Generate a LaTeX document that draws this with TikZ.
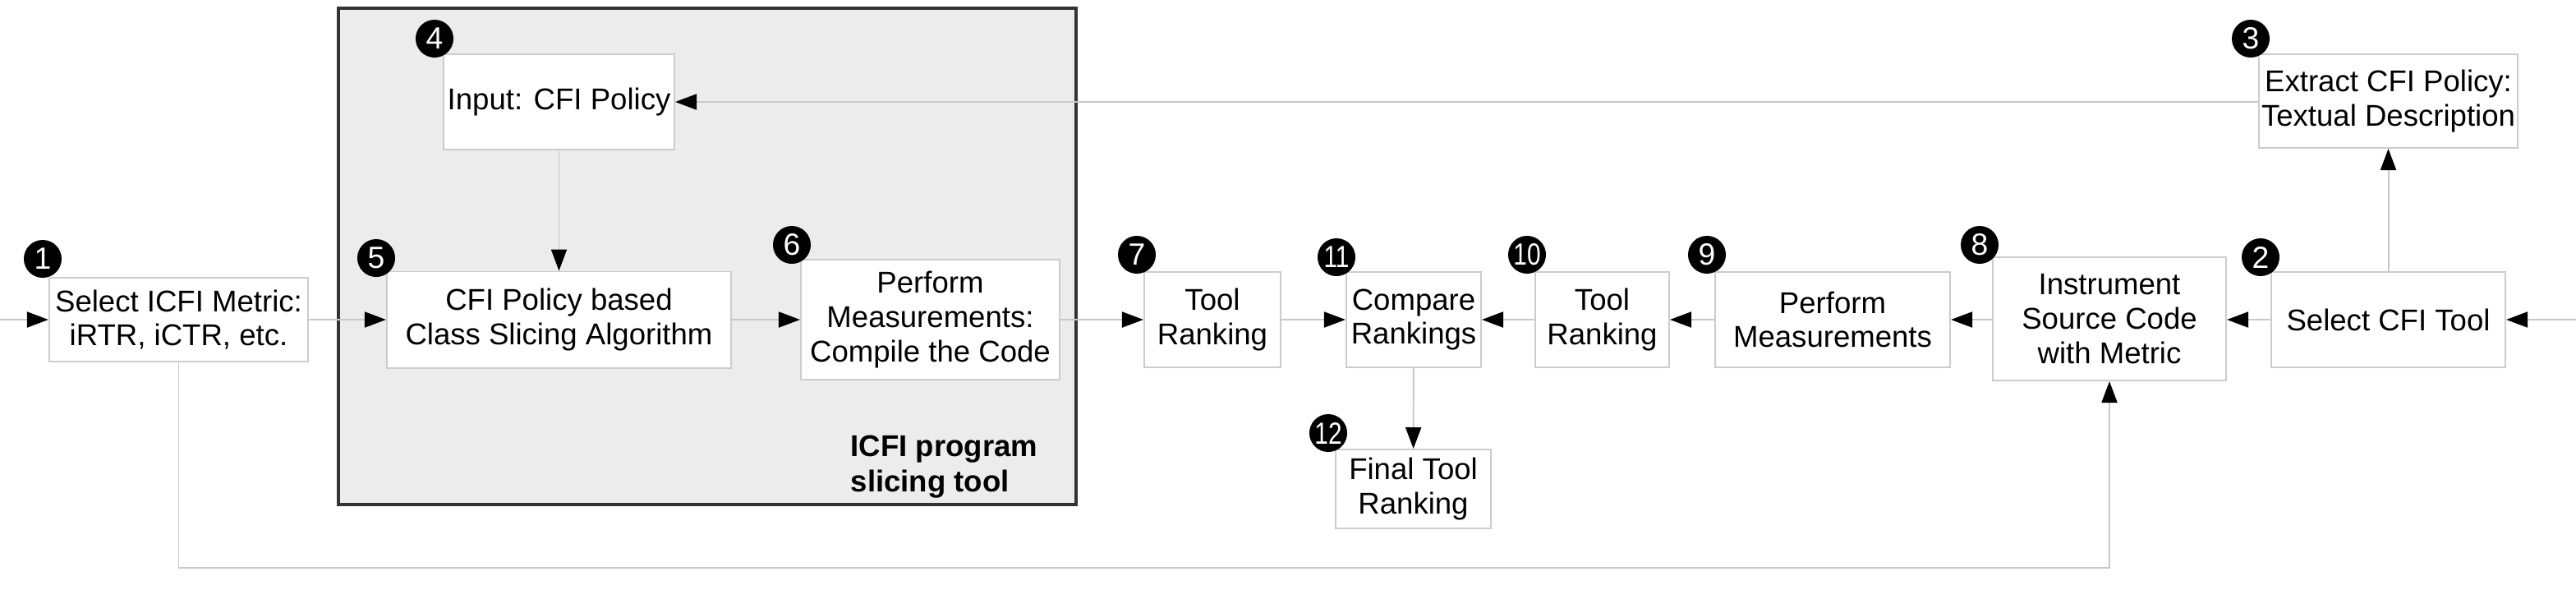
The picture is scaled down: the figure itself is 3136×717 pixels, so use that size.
\documentclass[tikz,border=0pt]{standalone}
\usepackage{fontspec}
\setmainfont{Liberation Sans}
\usetikzlibrary{arrows.meta,positioning}
\definecolor{linegray}{HTML}{C8C8C8}
\definecolor{boxgray}{HTML}{CCCCCC}
\definecolor{panelgray}{HTML}{ECECEC}
\definecolor{paneledge}{HTML}{333333}

\begin{document}
\begin{tikzpicture}[
  x=0.01cm, y=-0.01cm,
  box/.style={rectangle, draw=boxgray, line width=0.55pt, fill=white, align=center, font=\fontsize{10.4}{11.9}\selectfont, inner xsep=0pt, inner ysep=2pt},
  arrow/.style={-{Triangle[length=2.6mm, width=1.9mm, color=black]}, draw=linegray, line width=0.55pt},
  badge/.style={circle, fill=black, text=white, minimum size=0.46cm, inner sep=0pt, font=\fontsize{10.6}{11}\selectfont},
  panel/.style={rectangle, fill=panelgray, draw=paneledge, line width=1.1pt},
  grouptitle/.style={font=\fontsize{10.4}{12.4}\selectfont\bfseries, align=left, inner sep=0pt},
]
\useasboundingbox (0,0) rectangle (3136,717);

% slicing tool panel
\node[panel, minimum width=8.98cm, minimum height=6.04cm] (slicer) at (861,312) {};
\node[grouptitle, anchor=west] (slicertitle) at (1035,568) {ICFI program\\slicing tool};

% steps
\node[box, minimum width=3.15cm, minimum height=1.02cm] (metric) at (217.5,389) {Select ICFI Metric:\\iRTR, iCTR, etc.};
\node[box, minimum width=2.81cm, minimum height=1.16cm] (policyin) at (680.5,124) {Input: CFI Policy};
\node[box, minimum width=4.19cm, minimum height=1.17cm] (slicing) at (680.5,389) {CFI Policy based\\Class Slicing Algorithm};
\node[box, minimum width=3.15cm, minimum height=1.46cm] (compile) at (1132.5,389) {Perform\\Measurements:\\Compile the Code};
\node[box, minimum width=1.66cm, minimum height=1.16cm] (rankA) at (1476,389) {Tool\\Ranking};
\node[box, minimum width=1.64cm, minimum height=1.16cm] (compare) at (1721,389) {Compare\\Rankings};
\node[box, minimum width=1.63cm, minimum height=1.16cm] (rankB) at (1950.5,389) {Tool\\Ranking};
\node[box, minimum width=2.86cm, minimum height=1.16cm] (measure) at (2231,389) {Perform\\Measurements};
\node[box, minimum width=2.84cm, minimum height=1.50cm] (instr) at (2568,388) {Instrument\\Source Code\\with Metric};
\node[box, minimum width=2.85cm, minimum height=1.16cm] (tool) at (2907.5,389) {Select CFI Tool};
\node[box, minimum width=3.15cm, minimum height=1.14cm] (extract) at (2907.5,123) {Extract CFI Policy:\\Textual Description};
\node[box, minimum width=1.89cm, minimum height=0.96cm] (final) at (1720.5,595) {Final Tool\\Ranking};

% step numbers
\node[badge] (n1) at (52,315) {1};
\node[badge] (n2) at (2752,313) {2};
\node[badge] (n3) at (2740,47) {3};
\node[badge] (n4) at (529,47) {4};
\node[badge] (n5) at (458,314) {5};
\node[badge] (n6) at (964,298) {6};
\node[badge] (n7) at (1384,310) {7};
\node[badge] (n8) at (2410,298) {8};
\node[badge] (n9) at (2078,310) {9};
\node[badge] (n10) at (1859,310) {\scalebox{0.8}[1]{10}};
\node[badge] (n11) at (1627,313) {\scalebox{0.8}[1]{11}};
\node[badge] (n12) at (1617,527) {\scalebox{0.8}[1]{12}};

% flow
\coordinate (inL) at (0,389);
\coordinate (inR) at (3136,389);
\draw[arrow] (inL) -- (metric.west);
\draw[arrow] (metric) -- (slicing);
\draw[arrow] (policyin) -- (slicing);
\draw[arrow] (slicing) -- (compile);
\draw[arrow] (compile) -- (rankA);
\draw[arrow] (rankA) -- (compare);
\draw[arrow] (rankB) -- (compare);
\draw[arrow] (measure) -- (rankB);
\draw[arrow] (instr.west |- measure) -- (measure);
\draw[arrow] (tool) -- (instr.east |- tool);
\draw[arrow] (inR) -- (tool.east);
\draw[arrow] (tool) -- (extract);
\draw[arrow] (extract.west |- policyin) -- (policyin);
\draw[arrow] (compare) -- (final);
\draw[arrow] (metric.south) -- ++(0,250) -| (instr.south);
\end{tikzpicture}
\end{document}
